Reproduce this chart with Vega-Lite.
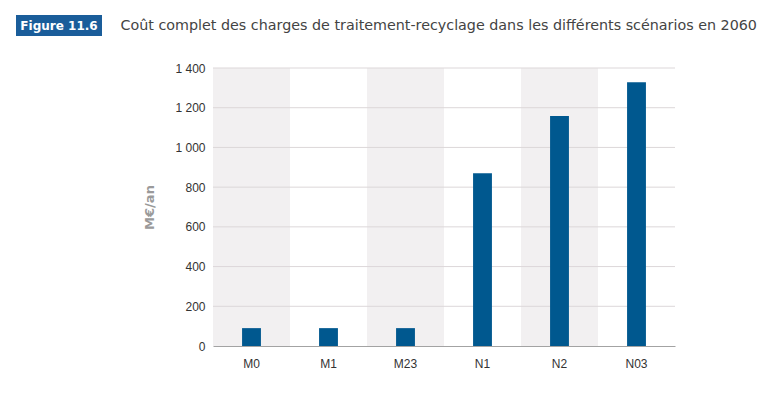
{
  "$schema": "https://vega.github.io/schema/vega-lite/v6.json",
  "padding": {"left": 16, "top": 15, "right": 0, "bottom": 0},
  "background": "white",
  "config": {
    "view": {"stroke": null},
    "axisY": {"labelOverlap": false, "labelFont": "Liberation Sans", "labelFontSize": 12, "labelColor": "#333333", "labelPadding": 8, "ticks": false, "domain": false, "grid": false, "title": "M€/an", "titleFont": "DejaVu Sans", "titleFontWeight": "bold", "titleFontSize": 13, "titleColor": "#9a9a9a", "titlePadding": 18},
    "axisX": {"labelOverlap": false, "title": null, "labelAngle": 0, "labelFont": "Liberation Sans", "labelFontSize": 12, "labelColor": "#333333", "labelPadding": 12, "ticks": false, "domainColor": "#a3a3a3", "domainWidth": 1.2, "grid": false}
  },
  "spacing": 26,
  "vconcat": [
    {
      "spacing": 18,
      "hconcat": [
        {
          "width": 86,
          "height": 21,
          "view": {"fill": "#1a5d9a", "stroke": null},
          "data": {"values": [{"label": "Figure 11.6"}]},
          "mark": {"type": "text", "color": "white", "font": "DejaVu Sans", "fontWeight": "bold", "fontSize": 12, "baseline": "middle", "align": "center"},
          "encoding": {"text": {"field": "label"}}
        },
        {
          "width": 1,
          "height": 21,
          "data": {"values": [{"label": "Coût complet des charges de traitement-recyclage dans les différents scénarios en 2060"}]},
          "mark": {"type": "text", "color": "#444444", "font": "DejaVu Sans", "fontSize": 14.3, "baseline": "middle", "align": "left"},
          "encoding": {"text": {"field": "label"}}
        }
      ]
    },
    {
      "spacing": 27,
      "hconcat": [
        {
          "width": 100,
          "height": 1,
          "data": {"values": []},
          "mark": {"type": "text"},
          "encoding": {}
        },
        {
          "width": 462,
          "height": 278,
          "data": {"values": [
            {"scenario": "M0", "cost": 90},
            {"scenario": "M1", "cost": 90},
            {"scenario": "M23", "cost": 90},
            {"scenario": "N1", "cost": 870},
            {"scenario": "N2", "cost": 1158},
            {"scenario": "N03", "cost": 1328}
          ]},
          "layer": [
            {
              "transform": [{"filter": "indexof(['M0','M23','N2'], datum.scenario) >= 0"}],
              "mark": {"type": "bar", "color": "#f2f0f1", "width": {"band": 1}},
              "encoding": {
                "x": {"field": "scenario", "type": "nominal", "sort": ["M0", "M1", "M23", "N1", "N2", "N03"], "title": null},
                "y": {"datum": 1400, "type": "quantitative", "title": "M€/an", "axis": {"values": [0, 200, 400, 600, 800, 1000, 1200, 1400], "labelExpr": "replace(format(datum.value, ','), ',', ' ')", "labelOverlap": false}},
                "y2": {"datum": 0}
              }
            },
            {
              "data": {"values": [{"g": 200}, {"g": 400}, {"g": 600}, {"g": 800}, {"g": 1000}, {"g": 1200}, {"g": 1400}]},
              "mark": {"type": "rule", "color": "#dcd7d9", "strokeWidth": 1},
              "encoding": {"y": {"field": "g", "type": "quantitative", "title": "M€/an", "axis": {"values": [0, 200, 400, 600, 800, 1000, 1200, 1400], "labelExpr": "replace(format(datum.value, ','), ',', ' ')", "labelOverlap": false}}}
            },
            {
              "mark": {"type": "bar", "color": "#00588f", "width": {"band": 0.245}},
              "encoding": {
                "x": {
                  "field": "scenario", "type": "nominal", "sort": ["M0", "M1", "M23", "N1", "N2", "N03"], "title": null,
                  "scale": {"paddingInner": 0, "paddingOuter": 0}
                },
                "y": {
                  "field": "cost", "type": "quantitative", "title": "M€/an",
                  "scale": {"domain": [0, 1400], "nice": false},
                  "axis": {"values": [0, 200, 400, 600, 800, 1000, 1200, 1400], "labelExpr": "replace(format(datum.value, ','), ',', ' ')", "labelOverlap": false}
                }
              }
            }
          ]
        }
      ]
    }
  ]
}
